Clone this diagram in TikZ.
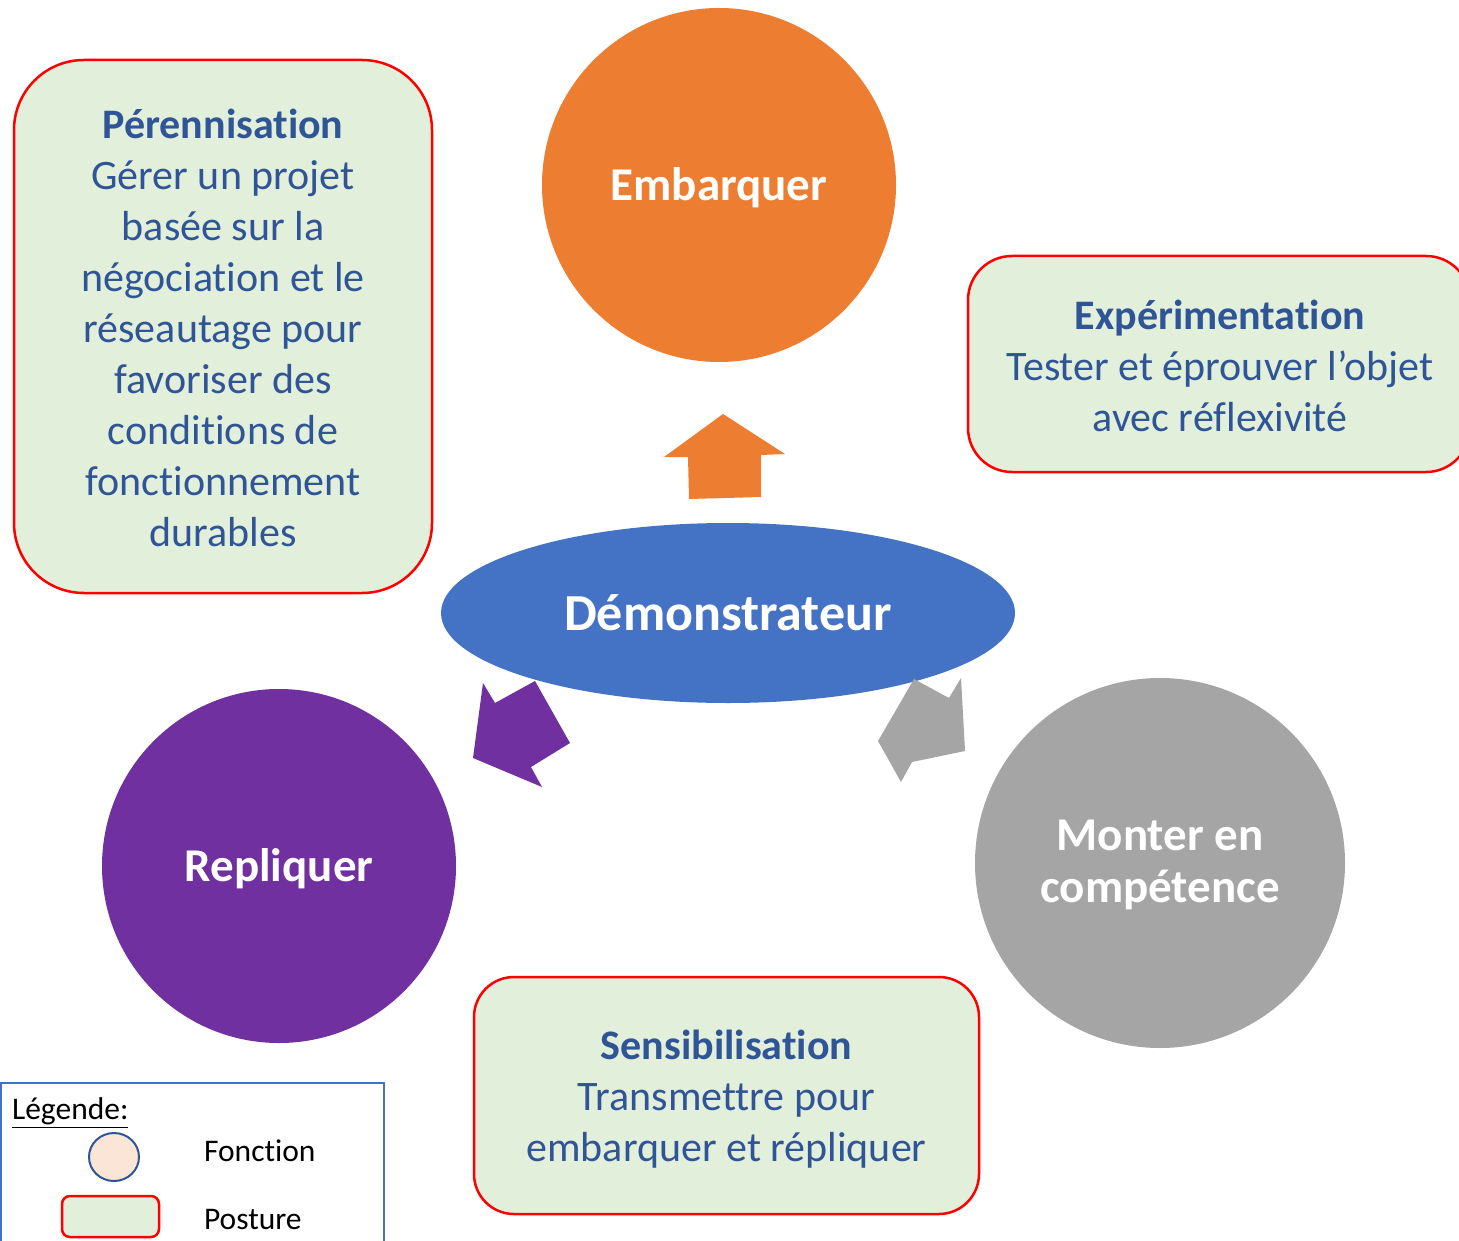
\documentclass[tikz,border=0pt]{standalone}
\usepackage{fontspec}
\setmainfont{Carlito}[Ligatures=NoCommon]
\usetikzlibrary{shapes.geometric}
\definecolor{orangeF}{HTML}{ED7D31}
\definecolor{blueF}{HTML}{4472C4}
\definecolor{purpleF}{HTML}{7030A0}
\definecolor{grayF}{HTML}{A5A5A5}
\definecolor{boxfill}{HTML}{E2EFDA}
\definecolor{boxred}{HTML}{FF0000}
\definecolor{txtblue}{HTML}{2F5597}
\definecolor{peach}{HTML}{FBE5D6}
\begin{document}
\begin{tikzpicture}[x=0.5pt,y=-0.5pt,
  fonction/.style={circle,inner sep=0pt},
  fontext/.style={text=white,font=\fontsize{23.5}{26}\selectfont\bfseries,align=center,inner sep=0pt},
  posture/.style={draw=boxred,line width=1.25pt,fill=boxfill,inner sep=0pt},
  postext/.style={text=txtblue,align=center,inner sep=0pt,font=\fontsize{21}{25.5}\selectfont},
  legtext/.style={anchor=west,font=\fontsize{15.75}{18}\selectfont,text=black}
]
\useasboundingbox (0,0) rectangle (1459,1240);
\clip (0,0) rectangle (1459,1240);

% Posture boxes
\node[posture,rounded corners=35pt,minimum width=209pt,minimum height=266.5pt] (per) at (223,326.5) {};
\node[postext] (pert) at (223,328)
  {\textbf{Pérennisation}\\Gérer un projet\\basée sur la\\négociation et le\\réseautage pour\\favoriser des\\conditions de\\fonctionnement\\durables};
\node[posture,rounded corners=22pt,minimum width=251pt,minimum height=108pt] (exp) at (1219,364) {};
\node[postext] (expt) at (1220,366) {\textbf{Expérimentation}\\Tester et éprouver l’objet\\avec réflexivité};
\node[posture,rounded corners=20pt,minimum width=252.5pt,minimum height=118.5pt] (sens) at (726.5,1095.5) {};
\node[postext] (senst) at (726.5,1099.5) {\textbf{Sensibilisation}\\Transmettre pour\\embarquer et répliquer};

% Functions
\node[fonction,fill=orangeF,minimum size=177pt] (emb) at (719,185) {};
\node[fontext] (embt) at (719,188) {Embarquer};
\node[fonction,fill=purpleF,minimum size=177pt] (rep) at (279,866) {};
\node[fontext] (rept) at (279,869) {Repliquer};
\node[fonction,fill=grayF,minimum size=185pt] (mon) at (1160,863) {};
\node[fontext] (mont) at (1160,865) {Monter en\\compétence};
\node[ellipse,fill=blueF,inner sep=0pt,minimum width=287pt,minimum height=90pt,text=white,
  font=\fontsize{26}{30}\selectfont\bfseries] (dem) at (728,613) {Démonstrateur};

% Block arrows
\fill[orangeF] (723,414) -- (785,454) -- (761,455) -- (761,497) -- (689,499) -- (688,457) -- (664,457) -- cycle;
\fill[purpleF] (483,683) -- (495,703) -- (535,681) -- (570,743) -- (531,767) -- (542,787) -- (473,758) -- cycle;
\fill[grayF] (914,679) -- (949,698) -- (961,678) -- (965,751) -- (912,762) -- (901,782) -- (878,741) -- cycle;

% Legend
\node[draw=blueF,line width=1pt,minimum width=191.5pt,minimum height=90pt,inner sep=0pt,anchor=north west] (leg) at (0,1082) {};
\node[legtext] (legt) at (5,1113) {\underline{Légende:}};
\node[ellipse,draw=txtblue,line width=1pt,fill=peach,minimum width=25pt,minimum height=24pt,inner sep=0pt] (legc) at (114,1157) {};
\node[legtext] (legf) at (197,1151) {Fonction};
\node[draw=boxred,line width=1.25pt,fill=boxfill,rounded corners=4pt,minimum width=48.5pt,minimum height=20.5pt,inner sep=0pt] (legr) at (110.5,1216.5) {};
\node[legtext] (legp) at (197,1219) {Posture};
\end{tikzpicture}
\end{document}
